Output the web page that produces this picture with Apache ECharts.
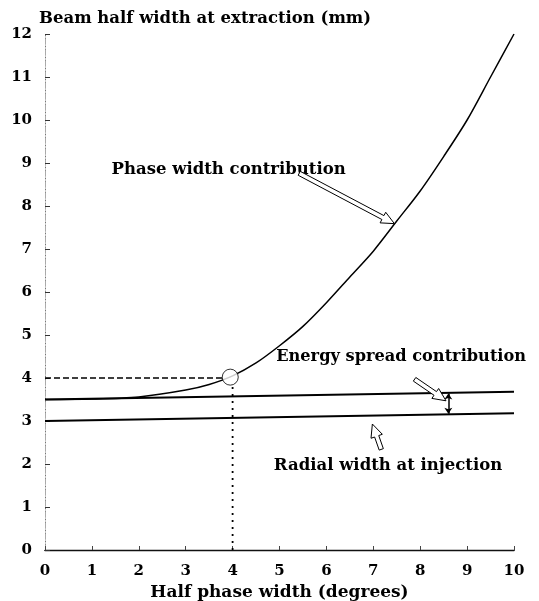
<!DOCTYPE html>
<html>
<head>
<meta charset="utf-8">
<script src="https://cdn.jsdelivr.net/npm/echarts@6/dist/echarts.min.js"></script>
<style>
html,body{margin:0;padding:0;background:#fff;}
#chart{width:539px;height:601px;}
</style>
</head>
<body>
<div id="chart"></div>
<script>
// ---- data ----
const xTickLabels = ['0','1','2','3','4','5','6','7','8','9','10'];
const yTickLabels = ['0','1','2','3','4','5','6','7','8','9','10','11','12'];
const curveX = [0, 1, 2, 3, 3.5, 4, 4.5, 5, 5.5, 6, 6.5, 7, 7.5, 8, 8.5, 9, 9.5, 10];
const curveY = [3.5, 3.51, 3.56, 3.72, 3.85, 4.05, 4.35, 4.75, 5.2, 5.75, 6.35, 6.95, 7.65, 8.35, 9.15, 10.0, 11.0, 12.0];
const radialX = [0, 10];
const radialY = [3.0, 3.18];
const energyX = [0, 10];
const energyY = [3.5, 3.68];
const guideHX = [0, 3.8];
const guideHY = [4.0, 4.0];
const guideVX = [4.0, 4.0];
const guideVY = [0, 3.82];
const operatingPoint = [3.95, 4.02];
const spreadArrowX = 8.6;
const spreadArrowY = [3.17, 3.64];
const labelTexts = ['Phase width contribution', 'Energy spread contribution', 'Radial width at injection'];
const labelPos = [[1.42, 8.85], [4.93, 4.5], [4.88, 1.95]];
const labelSizes = [16.5, 16.2, 16.5];
const arrowTails = [[5.42, 8.76], [7.88, 3.97], [7.17, 2.34]];
const arrowTips = [[7.45, 7.59], [8.55, 3.47], [6.98, 2.93]];
const yAxisTitle = 'Beam half width at extraction (mm)';
const xAxisTitle = 'Half phase width (degrees)';

const FONT = '"DejaVu Serif", "Liberation Serif", serif';
const zip = (xs, ys) => xs.map((x, i) => [x, ys[i]]);

const chart = echarts.init(document.getElementById('chart'), null, {renderer: 'canvas'});

const option = {
  animation: false,
  backgroundColor: '#fff',
  grid: {left: 45, right: 25, top: 34, bottom: 51, containLabel: false, outerBoundsMode: 'none'},
  xAxis: [{
    type: 'value', min: 0, max: 10, interval: 1,
    axisLine: {show: true, lineStyle: {color: '#111', width: 1.2}},
    axisTick: {show: true, inside: true, length: 4, lineStyle: {color: '#444'}},
    splitLine: {show: false},
    axisLabel: {margin: 14, color: '#000', fontFamily: FONT, fontWeight: 'bold', fontSize: 15,
      formatter: v => xTickLabels[Math.round(v)]},
    name: xAxisTitle, nameLocation: 'middle', nameGap: 31,
    nameTextStyle: {color: '#000', fontFamily: FONT, fontWeight: 'bold', fontSize: 17}
  }, {
    type: 'value', min: 0, max: 10, position: 'top',
    axisLine: {show: true, lineStyle: {color: '#111', width: 1.4}},
    axisTick: {show: false}, axisLabel: {show: false}, splitLine: {show: false}
  }],
  yAxis: [{
    type: 'value', min: 0, max: 12, interval: 1,
    axisLine: {show: true, lineStyle: {color: '#777', width: 1, type: [6, 2, 1, 2]}},
    axisTick: {show: true, inside: true, length: 5, lineStyle: {color: '#333'}},
    splitLine: {show: false},
    axisLabel: {margin: 13, color: '#000', fontFamily: FONT, fontWeight: 'bold', fontSize: 15,
      formatter: v => yTickLabels[Math.round(v)]}
  }, {
    type: 'value', min: 0, max: 12, position: 'right',
    axisLine: {show: true, lineStyle: {color: '#aaa', width: 1, type: [5, 6]}},
    axisTick: {show: false}, axisLabel: {show: false}, splitLine: {show: false}
  }],
  series: [
    {type: 'line', data: zip(curveX, curveY), smooth: 0.3, showSymbol: false,
      lineStyle: {color: '#000', width: 1.5}, z: 3},
    {type: 'line', data: zip(radialX, radialY), showSymbol: false,
      lineStyle: {color: '#000', width: 2}},
    {type: 'line', data: zip(energyX, energyY), showSymbol: false,
      lineStyle: {color: '#000', width: 2},
      markLine: {silent: true, symbol: ['arrow', 'arrow'], symbolSize: [6, 6], label: {show: false},
        lineStyle: {color: '#000', width: 1.5, type: 'solid'},
        data: [[{coord: [spreadArrowX, spreadArrowY[0]]}, {coord: [spreadArrowX, spreadArrowY[1]]}]]}},
    {type: 'line', data: zip(guideHX, guideHY), showSymbol: false,
      lineStyle: {color: '#000', width: 1.6, type: [6, 3]}},
    {type: 'line', data: zip(guideVX, guideVY), showSymbol: false,
      lineStyle: {color: '#000', width: 1.8, type: [2, 5]}},
    {type: 'scatter', data: [operatingPoint], symbol: 'circle', symbolSize: 16,
      itemStyle: {color: '#fff', borderColor: '#000', borderWidth: 1}, z: 5}
  ]
};
chart.setOption(option);

function arrowPoly(t, h) {
  const dx = h[0] - t[0], dy = h[1] - t[1];
  const len = Math.hypot(dx, dy);
  const ux = dx / len, uy = dy / len, nx = -uy, ny = ux;
  const w = 2.2, hw = 6, hl = 13;
  const bx = h[0] - ux * hl, by = h[1] - uy * hl;
  return [
    [t[0] + nx * w, t[1] + ny * w], [bx + nx * w, by + ny * w], [bx + nx * hw, by + ny * hw],
    [h[0], h[1]],
    [bx - nx * hw, by - ny * hw], [bx - nx * w, by - ny * w], [t[0] - nx * w, t[1] - ny * w]
  ];
}

const gfx = [];
gfx.push({type: 'text', left: 39, top: 10,
  style: {text: yAxisTitle, font: 'bold 16.5px ' + FONT, fill: '#000'}});
labelTexts.forEach((txt, i) => {
  const p = chart.convertToPixel({gridIndex: 0}, labelPos[i]);
  gfx.push({type: 'text', x: p[0], y: p[1],
    style: {text: txt, font: 'bold ' + labelSizes[i] + 'px ' + FONT, fill: '#000', textVerticalAlign: 'middle', verticalAlign: 'middle'}});
});
arrowTails.forEach((tl, i) => {
  const a = chart.convertToPixel({gridIndex: 0}, tl);
  const b = chart.convertToPixel({gridIndex: 0}, arrowTips[i]);
  gfx.push({type: 'polygon', shape: {points: arrowPoly(a, b)},
    style: {fill: '#fff', stroke: '#000', lineWidth: 1}, z: 10});
});
chart.setOption({graphic: gfx});
</script>
</body>
</html>
